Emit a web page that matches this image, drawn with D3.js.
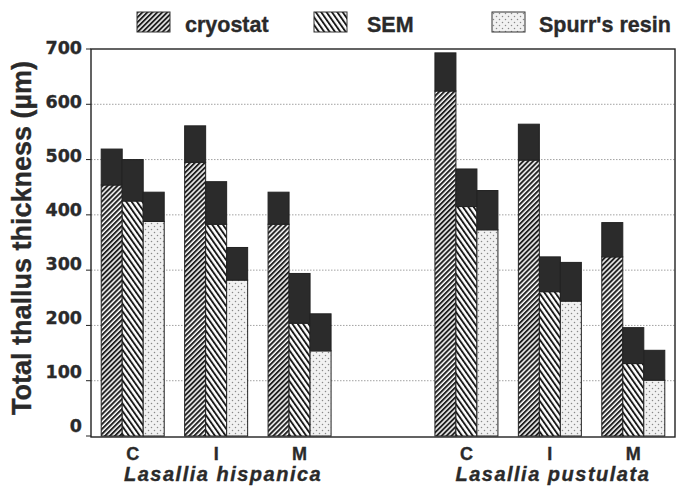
<!DOCTYPE html>
<html>
<head>
<meta charset="utf-8">
<script src="https://cdn.jsdelivr.net/npm/d3@7"></script>
<style>
  html, body { margin: 0; padding: 0; background: #fff; }
  svg { display: block; }
  text { font-family: "Liberation Sans", Arial, Helvetica, sans-serif; font-weight: bold; fill: #2a2a2a; stroke: #2a2a2a; stroke-width: 0.35px; }
</style>
</head>
<body>
<svg id="chart" width="677" height="492"></svg>
<script>
// ---- data ----
const species = ["Lasallia hispanica", "Lasallia pustulata"];
const sites = ["C", "I", "M"];
const seriesNames = ["cryostat", "SEM", "Spurr's resin"];
const yTicks = [0, 100, 200, 300, 400, 500, 600, 700];

// order: hispanica C, I, M, pustulata C, I, M
// lower (hatched) part of each bar
const cryostatBase = [454, 495, 383, 624, 499, 324];
const semBase      = [425, 383, 204, 415, 261, 131];
const spurrBase    = [388, 282, 154, 373, 244, 101];
// top of the dark cap of each bar
const cryostatTop  = [519, 561, 441, 693, 564, 386];
const semTop       = [500, 460, 294, 483, 324, 196];
const spurrTop     = [441, 341, 221, 444, 314, 155];

// ---- build ----
const bases = [cryostatBase, semBase, spurrBase];
const tops = [cryostatTop, semTop, spurrTop];
const slotKeys = [];
species.forEach((sp, si) => {
  sites.forEach(s => slotKeys.push(sp + "|" + s));
  if (si < species.length - 1) slotKeys.push("gap" + si);
});
const records = [];
let k = 0;
species.forEach(sp => sites.forEach(s => {
  seriesNames.forEach((nm, j) => {
    records.push({slot: sp + "|" + s, series: nm, base: bases[j][k], top: tops[j][k]});
  });
  k++;
}));

const svg = d3.select("#chart");
const L = 91, R = 675, T = 49, B = 436;

const x = d3.scaleBand().domain(slotKeys).range([L, R]).padding(0);
const xs = d3.scaleBand().domain(seriesNames).range([0, 63]).padding(0);
const y = d3.scaleLinear().domain([0, 700]).range([B, T]);
const yLab = d3.scaleLinear().domain([0, 700]).range([426, 48]);

// patterns
const defs = svg.append("defs");
const p1 = defs.append("pattern").attr("id", "pat-cryostat").attr("patternUnits", "userSpaceOnUse")
  .attr("width", 3.5).attr("height", 3.5).attr("patternTransform", "rotate(45)");
p1.append("rect").attr("width", 3.5).attr("height", 3.5).attr("fill", "#fff");
p1.append("rect").attr("width", 2.0).attr("height", 3.5).attr("fill", "#222");

const p2 = defs.append("pattern").attr("id", "pat-SEM").attr("patternUnits", "userSpaceOnUse")
  .attr("width", 4.4).attr("height", 4.4).attr("patternTransform", "rotate(-35)");
p2.append("rect").attr("width", 4.4).attr("height", 4.4).attr("fill", "#fff");
p2.append("rect").attr("width", 1.9).attr("height", 4.4).attr("fill", "#1a1a1a");

const p3 = defs.append("pattern").attr("id", "pat-spurr").attr("patternUnits", "userSpaceOnUse")
  .attr("width", 6).attr("height", 6);
p3.append("rect").attr("width", 6).attr("height", 6).attr("fill", "#f1f1f1");
p3.append("circle").attr("cx", 1.5).attr("cy", 1.5).attr("r", 0.75).attr("fill", "#888");
p3.append("circle").attr("cx", 4.5).attr("cy", 4.5).attr("r", 0.75).attr("fill", "#888");

const patFor = {"cryostat": "url(#pat-cryostat)", "SEM": "url(#pat-SEM)", "Spurr's resin": "url(#pat-spurr)"};

// gridlines
svg.append("g").selectAll("line").data(yTicks.filter(v => v > 0 && v < 700)).join("line")
  .attr("x1", L).attr("x2", R).attr("y1", d => y(d)).attr("y2", d => y(d))
  .attr("stroke", "#8a8a8a").attr("stroke-width", 0.8).attr("stroke-dasharray", "1.5,1.5");

// bars
const barX = d => x(d.slot) + x.bandwidth() / 2 - 31.5 + xs(d.series);
const bars = svg.append("g");
bars.selectAll("rect.base").data(records).join("rect").attr("class", "base")
  .attr("x", barX).attr("width", xs.bandwidth())
  .attr("y", d => y(d.base)).attr("height", d => y(0) - y(d.base))
  .attr("fill", d => patFor[d.series]).attr("stroke", "#222").attr("stroke-width", 1);
bars.selectAll("rect.cap").data(records).join("rect").attr("class", "cap")
  .attr("x", barX).attr("width", xs.bandwidth())
  .attr("y", d => y(d.top)).attr("height", d => y(d.base) - y(d.top))
  .attr("fill", "#2b2b2b").attr("stroke", "#222").attr("stroke-width", 1);

// frame
svg.append("rect").attr("x", L).attr("y", T).attr("width", R - L).attr("height", B - T + 1)
  .attr("fill", "none").attr("stroke", "#222").attr("stroke-width", 1.4);

// y axis ticks and labels
const yAxis = svg.append("g");
yAxis.selectAll("line").data(yTicks).join("line")
  .attr("x1", L - 5).attr("x2", L).attr("y1", d => y(d)).attr("y2", d => y(d))
  .attr("stroke", "#222").attr("stroke-width", 1);
yAxis.selectAll("text").data(yTicks).join("text")
  .attr("x", 82).attr("y", d => yLab(d)).attr("dy", "0.36em")
  .attr("text-anchor", "end")
  .style("font-family", "'DejaVu Sans', sans-serif").style("font-size", "17.5px")
  .text(d => d);

// y title
svg.append("text").attr("transform", "translate(31,238) rotate(-90)")
  .attr("text-anchor", "middle").style("font-size", "27px")
  .text("Total thallus thickness (µm)");

// x site labels
svg.append("g").selectAll("text").data(slotKeys.filter(s => !s.startsWith("gap"))).join("text")
  .attr("x", d => x(d) + x.bandwidth() / 2).attr("y", 460)
  .attr("text-anchor", "middle").style("font-size", "18px")
  .text(d => d.split("|")[1]);

// species labels
const spOffset = [7, 3];
svg.append("g").selectAll("text").data(species).join("text")
  .attr("x", (d, i) => x(d + "|I") + x.bandwidth() / 2 + spOffset[i]).attr("y", 481)
  .attr("text-anchor", "middle").style("font-size", "20px").style("font-style", "italic")
  .style("letter-spacing", "1.5px")
  .text(d => d);

// legend
const legX = [137, 314, 492];
const legTextX = [185, 367, 539];
const leg = svg.append("g");
seriesNames.forEach((nm, i) => {
  leg.append("rect").attr("x", legX[i]).attr("y", 12).attr("width", 33).attr("height", 20)
    .attr("fill", patFor[nm]).attr("stroke", "#333").attr("stroke-width", 1);
  leg.append("text").attr("x", legTextX[i]).attr("y", 32).style("font-size", "21.5px").text(nm);
});
</script>
</body>
</html>
